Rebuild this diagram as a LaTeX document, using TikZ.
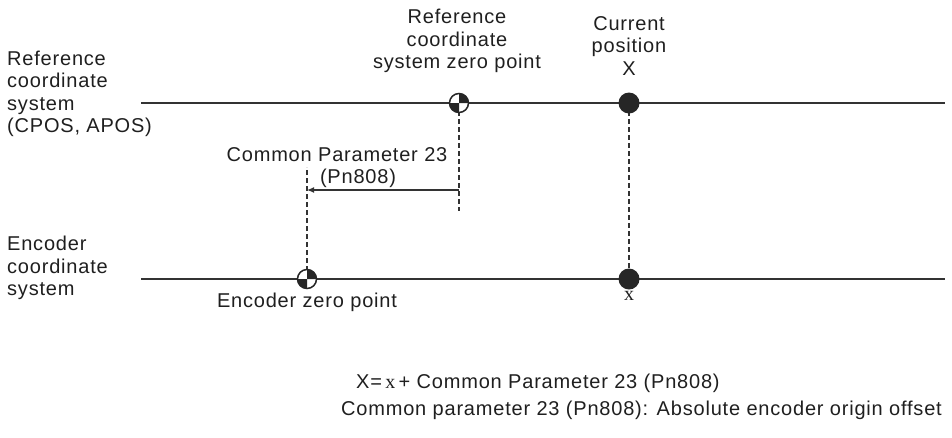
\documentclass[tikz,border=0pt]{standalone}
\usepackage{fontspec}
\setmainfont{Liberation Sans}[LetterSpace=4]
\newfontfamily\serifx{Liberation Serif}
\usetikzlibrary{arrows.meta}
\begin{document}
\begin{tikzpicture}[x=1pt,y=-1pt,
  every node/.style={font=\fontsize{20}{22.5}\selectfont, inner sep=0pt, text=black!88},
  axisline/.style={line width=1.4pt, draw=black!80},
  dashv/.style={line width=1.2pt, draw=black!80, dash pattern=on 5pt off 3pt},
  dotpt/.style={fill=black!85},
  offsetarrow/.style={line width=1.2pt, draw=black!80, -{Latex[length=7pt,width=6pt]}},
  zeropt/.pic={
    \fill[white] (0,0) circle (9.5);
    \fill[black!85] (0,0) -- (9.5,0) arc[start angle=0,end angle=-90,radius=9.5] -- cycle;
    \fill[black!85] (0,0) -- (-9.5,0) arc[start angle=180,end angle=90,radius=9.5] -- cycle;
    \draw[black!85, line width=1.5pt] (0,0) circle (9.5);
  }]
\useasboundingbox (0,0) rectangle (952,437);

% axis end points
\coordinate (rl) at (141,103);
\coordinate (rr) at (945,103);
\coordinate (el) at (141,279);
\coordinate (er) at (945,279);
\coordinate (rz) at (459,103);
\coordinate (ez) at (307,279);
\coordinate (cx) at (629,103);
\coordinate (ex) at (629,279);
\coordinate (rzd) at (459,211);
\coordinate (ezu) at (307,167);
\coordinate (arS) at (459,190);
\coordinate (arE) at (307,190);

\draw[axisline] (rl) -- (rr);
\draw[axisline] (el) -- (er);

% dashed verticals
\draw[dashv] (rz) -- (rzd);
\draw[dashv] (ez) -- (ezu);
\draw[dashv] (cx) -- (ex);
\draw[offsetarrow] (arS) -- (arE);

% points
\pic at (rz) {zeropt};
\pic at (ez) {zeropt};
\fill[dotpt] (cx) circle (10.5);
\fill[dotpt] (ex) circle (10.5);

% labels
\node[anchor=west, align=left] (reflab) at (7,94) {Reference\\coordinate\\system\\(CPOS, APOS)};
\node[anchor=west, align=left] (enclab) at (7,268) {Encoder\\coordinate\\system};
\node[align=center] (rzlab) at (457,41) {Reference\\coordinate\\system zero point};
\node[align=center] (cxlab) at (629,46) {Current\\position\\X};
\node (cp) at (337,155) {Common Parameter 23};
\node (pn) at (358,178) {(Pn808)};
\node (ezlab) at (307,302) {Encoder zero point};
\node (exlab) at (629,296) {{\serifx x}};
\node[anchor=west] (eq1) at (356,383) {X=\,{\serifx x}\,+ Common Parameter 23 (Pn808)};
\node[anchor=west] (eq2) at (341,410) {Common parameter 23 (Pn808): Absolute encoder origin offset};
\end{tikzpicture}
\end{document}
